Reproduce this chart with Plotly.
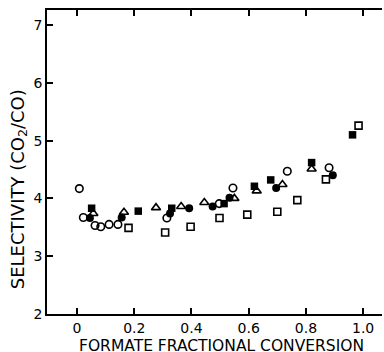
import plotly.graph_objects as go

# Filled squares
fsq_x = [0.051, 0.214, 0.331, 0.514, 0.62, 0.677, 0.82, 0.963]
fsq_y = [3.83, 3.78, 3.83, 3.91, 4.21, 4.32, 4.62, 5.10]
# Filled circles
fci_x = [0.045, 0.156, 0.325, 0.392, 0.474, 0.533, 0.696, 0.894]
fci_y = [3.66, 3.67, 3.74, 3.83, 3.86, 4.01, 4.18, 4.40]
# Open circles
oci_x = [0.008, 0.022, 0.063, 0.083, 0.112, 0.143, 0.314, 0.497, 0.545, 0.735, 0.881]
oci_y = [4.17, 3.67, 3.53, 3.51, 3.55, 3.55, 3.66, 3.91, 4.18, 4.47, 4.53]
# Open triangles
otr_x = [0.057, 0.164, 0.276, 0.364, 0.445, 0.55, 0.628, 0.718, 0.82]
otr_y = [3.74, 3.76, 3.84, 3.86, 3.93, 4.00, 4.13, 4.24, 4.51]
# Open squares
osq_x = [0.18, 0.308, 0.397, 0.498, 0.595, 0.70, 0.77, 0.87, 0.984]
osq_y = [3.49, 3.41, 3.51, 3.66, 3.72, 3.77, 3.97, 4.33, 5.26]

x_ticks = [0, 0.2, 0.4, 0.6, 0.8, 1.0]
x_ticktext = ["0", "0.2", "0.4", "0.6", "0.8", "1.0"]
y_ticks = [2, 3, 4, 5, 6, 7]
y_ticktext = ["2", "3", "4", "5", "6", "7"]

fig = go.Figure()
open_line = dict(color="black", width=1.6)
fig.add_trace(go.Scatter(x=osq_x, y=osq_y, mode="markers",
                         marker=dict(symbol="square-open", size=7, color="black", line=open_line)))
fig.add_trace(go.Scatter(x=oci_x, y=oci_y, mode="markers",
                         marker=dict(symbol="circle-open", size=7.5, color="black", line=open_line)))
fig.add_trace(go.Scatter(x=otr_x, y=otr_y, mode="markers",
                         marker=dict(symbol="triangle-up-open", size=8, color="black", line=open_line)))
fig.add_trace(go.Scatter(x=fci_x, y=fci_y, mode="markers",
                         marker=dict(symbol="circle", size=8, color="black")))
fig.add_trace(go.Scatter(x=fsq_x, y=fsq_y, mode="markers",
                         marker=dict(symbol="square", size=7.5, color="black")))

fig.update_layout(
    width=384, height=352,
    margin=dict(l=47, r=2, t=10, b=38),
    paper_bgcolor="white", plot_bgcolor="white",
    showlegend=False,
    font=dict(family="DejaVu Sans, sans-serif", color="black"),
    annotations=[
        dict(text="FORMATE FRACTIONAL CONVERSION", xref="paper", yref="paper",
             x=0.522, y=-0.105, xanchor="center", yanchor="middle", borderpad=0,
             showarrow=False, font=dict(size=15.5)),
        dict(text="SELECTIVITY (CO<sub>2</sub>/CO)", xref="paper", yref="paper",
             x=-0.084, y=0.41, xanchor="center", yanchor="middle", textangle=-90,
             showarrow=False, font=dict(size=18)),
    ],
)
fig.update_xaxes(
    range=[-0.105, 1.066], tickvals=x_ticks, ticktext=x_ticktext,
    ticks="inside", ticklen=6, tickwidth=1.5, tickcolor="black",
    showline=True, linecolor="black", linewidth=1.5, mirror="ticks",
    showgrid=False, zeroline=False, tickfont=dict(size=14),
)
fig.update_yaxes(
    range=[2, 7.26], tickvals=y_ticks, ticktext=y_ticktext,
    ticks="inside", ticklen=6, tickwidth=1.5, tickcolor="black",
    showline=True, linecolor="black", linewidth=1.5,
    showgrid=False, zeroline=False, tickfont=dict(size=14),
)

fig.write_html("out.html")
